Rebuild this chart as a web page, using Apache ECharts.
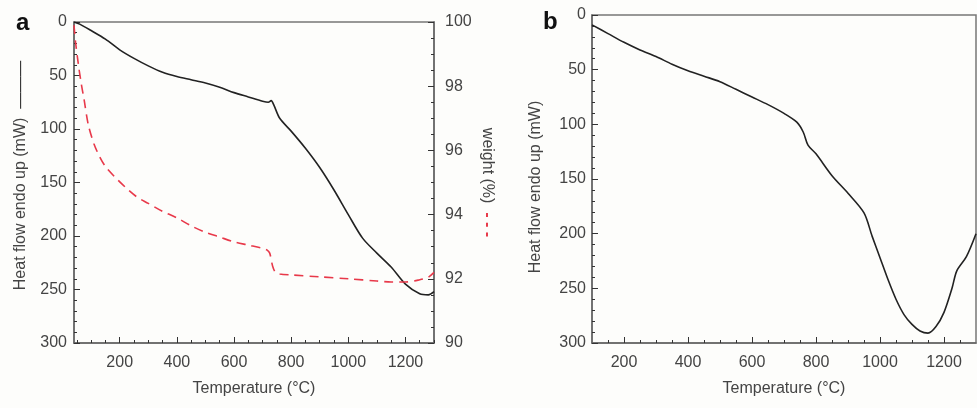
<!DOCTYPE html>
<html>
<head>
<meta charset="utf-8">
<script src="https://cdn.jsdelivr.net/npm/echarts@6/dist/echarts.min.js"></script>
<style>
  html, body { margin: 0; padding: 0; background: #fdfdfb; }
  #chart { width: 977px; height: 408px; }
</style>
</head>
<body>
<div id="chart"></div>
<script>
// panel a: heat flow (black) and weight (red dashed)
var tempA = [40, 60, 100, 150, 200, 250, 300, 350, 400, 450, 500, 550, 600, 650, 700, 720, 730, 740, 760, 800, 850, 900, 950, 1000, 1050, 1100, 1150, 1200, 1250, 1280, 1300];
var heatA = [0, 2, 8, 16, 26, 34, 41, 47, 51, 54, 57, 61, 66, 70, 74, 75, 73.5, 78, 90, 102, 118, 136, 157, 180, 202, 216, 229, 245, 254, 255, 252];

var tempW = [40, 45, 55, 65, 75, 90, 110, 130, 150, 180, 220, 260, 300, 350, 400, 450, 500, 550, 600, 650, 700, 715, 725, 735, 745, 760, 800, 900, 1000, 1100, 1150, 1200, 1250, 1280, 1300];
var weightA = [99.9, 99.4, 98.7, 98.1, 97.6, 96.8, 96.2, 95.8, 95.5, 95.2, 94.85, 94.55, 94.35, 94.1, 93.9, 93.65, 93.45, 93.3, 93.15, 93.05, 92.95, 92.9, 92.8, 92.4, 92.2, 92.15, 92.12, 92.06, 92.0, 91.93, 91.9, 91.9, 91.97, 92.05, 92.2];

// panel b: heat flow
var tempB = [100, 150, 200, 250, 300, 350, 400, 450, 500, 550, 600, 650, 700, 740, 760, 775, 800, 850, 900, 950, 975, 1000, 1025, 1050, 1075, 1100, 1125, 1150, 1175, 1200, 1225, 1240, 1270, 1300];
var heatB = [9, 17, 25, 32, 38, 45, 51, 56, 61, 68, 75, 82, 90, 98, 107, 119, 127, 147, 163, 181, 202, 222, 242, 260, 274, 283, 289, 291, 285, 272, 250, 234, 221, 200];

// tick labels
var xLabels = [200, 400, 600, 800, 1000, 1200];
var xMinorA = [50, 100, 150, 250, 300, 350, 450, 500, 550, 650, 700, 750, 850, 900, 950, 1050, 1100, 1150, 1250, 1300];
var xMinorB = [150, 250, 300, 350, 450, 500, 550, 650, 700, 750, 850, 900, 950, 1050, 1100, 1150, 1250];

var font = 'Liberation Sans, Arial, sans-serif';
var txt = '#444';

function pairs(xs, ys) {
    return xs.map(function (x, i) { return [x, ys[i]]; });
}
function plain(v) { return String(v); }

function xMain(grid, min) {
    return {
        type: 'value', gridIndex: grid, min: min, max: 1300, position: 'bottom',
        name: 'Temperature (°C)', nameLocation: 'middle', nameGap: 38,
        nameTextStyle: { fontFamily: font, fontSize: 16, color: txt },
        axisLine: { onZero: false, lineStyle: { color: '#666', width: 1.5 } },
        axisTick: { inside: true, length: 6, customValues: xLabels, lineStyle: { color: '#333' } },
        axisLabel: { customValues: xLabels, formatter: plain, margin: 12, fontFamily: font, fontSize: 16, color: txt },
        splitLine: { show: false }
    };
}
function xMinor(grid, min, ticks) {
    return {
        type: 'value', gridIndex: grid, min: min, max: 1300, position: 'bottom',
        axisLine: { show: false, onZero: false },
        axisTick: { inside: true, length: 3, customValues: ticks, lineStyle: { color: '#333' } },
        axisLabel: { show: false },
        splitLine: { show: false }
    };
}
function yHeat(grid, gap) {
    return {
        type: 'value', gridIndex: grid, position: 'left', inverse: true, min: 0, max: 300, interval: 50,
        name: grid === 0 ? '{t|Heat flow endo up (mW)}  {l|———}' : 'Heat flow endo up (mW)',
        nameLocation: 'middle', nameRotate: 90, nameGap: gap,
        nameTextStyle: {
            fontFamily: font, fontSize: 16, color: txt,
            padding: grid === 0 ? [0, 0, 0, 14] : [0, 16, 0, 0],
            rich: {
                t: { fontFamily: font, fontSize: 16, color: txt },
                l: { fontFamily: font, fontSize: 16, color: '#333' }
            }
        },
        axisLine: { onZero: false, lineStyle: { color: '#666', width: 1.5 } },
        axisTick: { inside: true, length: 6, lineStyle: { color: '#333' } },
        minorTick: { show: true, splitNumber: 5, length: 3, lineStyle: { color: '#333' } },
        axisLabel: { margin: grid === 0 ? 7 : 6, fontFamily: font, fontSize: 16, color: txt },
        splitLine: { show: false }
    };
}

var chart = echarts.init(document.getElementById('chart'));
chart.setOption({
    backgroundColor: '#fdfdfb',
    animation: false,
    title: [
        { text: 'a', left: 11, top: 6, textStyle: { fontFamily: font, fontSize: 24, fontWeight: 'bold', color: '#111' } },
        { text: 'b', left: 538, top: 5, textStyle: { fontFamily: font, fontSize: 24, fontWeight: 'bold', color: '#111' } }
    ],
    grid: [
        { left: 74, top: 22, width: 360, height: 321, show: true, borderColor: '#777', borderWidth: 1.5 },
        { left: 592, top: 15, width: 384, height: 328, show: true, borderColor: '#777', borderWidth: 1.5 }
    ],
    xAxis: [xMain(0, 40), xMinor(0, 40, xMinorA), xMain(1, 100), xMinor(1, 100, xMinorB)],
    yAxis: [
        yHeat(0, 45),
        {
            type: 'value', gridIndex: 0, position: 'right', min: 90, max: 100, interval: 2,
            name: '{t|weight (%)}  {d|- - -}', nameLocation: 'middle', nameRotate: -90, nameGap: 45,
            nameTextStyle: {
                fontFamily: font, fontSize: 16, color: txt,
                rich: {
                    t: { fontFamily: font, fontSize: 16, color: txt },
                    d: { fontFamily: font, fontSize: 16, color: '#e8394a', fontWeight: 'bold' }
                }
            },
            axisLine: { onZero: false, lineStyle: { color: '#666', width: 1.5 } },
            axisTick: { inside: true, length: 6, lineStyle: { color: '#333' } },
            minorTick: { show: true, splitNumber: 4, length: 3, lineStyle: { color: '#333' } },
            axisLabel: { margin: 11, fontFamily: font, fontSize: 16, color: txt },
            splitLine: { show: false }
        },
        yHeat(1, 48)
    ],
    series: [
        {
            type: 'line', xAxisIndex: 0, yAxisIndex: 0, data: pairs(tempA, heatA),
            showSymbol: false, smooth: 0.3, lineStyle: { color: '#222', width: 1.6 }
        },
        {
            type: 'line', xAxisIndex: 0, yAxisIndex: 1, data: pairs(tempW, weightA),
            showSymbol: false, smooth: 0.3, lineStyle: { color: '#e8394a', width: 1.6, type: [9, 6] }
        },
        {
            type: 'line', xAxisIndex: 2, yAxisIndex: 2, data: pairs(tempB, heatB),
            showSymbol: false, smooth: 0.3, lineStyle: { color: '#222', width: 1.6 }
        }
    ]
});
</script>
</body>
</html>
